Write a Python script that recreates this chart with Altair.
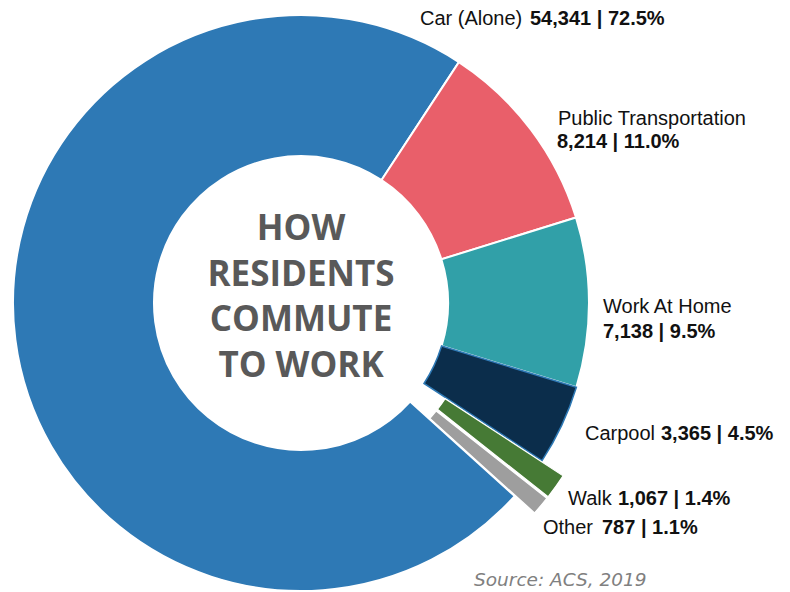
import math
import altair as alt
import pandas as pd

# ---------------- data ----------------
categories = ["Car (Alone)", "Public Transportation", "Work At Home", "Carpool", "Walk", "Other"]
counts = [54341, 8214, 7138, 3365, 1067, 787]
percents = [72.5, 11.0, 9.5, 4.5, 1.4, 1.1]
title_lines = ["HOW", "RESIDENTS", "COMMUTE", "TO WORK"]
source_text = "Source: ACS, 2019"

# ---------------- styles / layout ----------------
colors = ["#2E79B5", "#E95F6A", "#31A0A8", "#0B2D4B", "#467A35", "#9E9E9E"]
strokes = ["white", "white", "white", "#2E79B5", "white", "white"]
stroke_widths = [2, 2, 2, 1.5, 1.2, 1.2]
exploded = [0, 0, 0, 0, 1, 1]
W, H = 774, 584
CX, CY = 293, 295
R_OUT, R_IN = 288, 147
START = math.radians(132.1)
EXPLODE = 26
# label anchor positions (chart pixels): name x, name y, value x, value y
name_x = [412, 550, 595, 577, 560, 535]
name_y = [17, 117, 305, 432, 497, 526]
val_x = [522, 549, 595, 653, 610, 594]
val_y = [17, 140, 330, 432, 497, 526]

df = pd.DataFrame({
    "category": categories,
    "count": counts,
    "pct": percents,
    "color": colors,
    "strokec": strokes,
    "sw": stroke_widths,
    "explode": exploded,
    "order": list(range(len(categories))),
})

pie = (
    alt.Chart(df)
    .transform_joinaggregate(total="sum(count)")
    .transform_window(cum="sum(count)", sort=[alt.SortField("order")], frame=[None, 0])
    .transform_calculate(mid=f"{START} + 2*PI*(datum.cum - datum.count/2)/datum.total")
    .transform_calculate(
        px=f"{CX} + {EXPLODE}*datum.explode*sin(datum.mid)",
        py=f"{CY} - {EXPLODE}*datum.explode*cos(datum.mid)",
    )
    .mark_arc(radius=R_OUT, radius2=R_IN)
    .encode(
        theta=alt.Theta("count:Q", stack=True,
                        scale=alt.Scale(domain=[0, sum(counts)], range=[START, START + 2 * math.pi])),
        order=alt.Order("order:Q"),
        color=alt.Color("color:N", scale=None),
        stroke=alt.Stroke("strokec:N", scale=None),
        strokeWidth=alt.StrokeWidth("sw:Q", scale=None),
        x=alt.X("px:Q", scale=None),
        y=alt.Y("py:Q", scale=None),
    )
)

lab = pd.DataFrame({
    "name": [c + " " for c in categories],
    "val": [f"{c:,} | {p:.1f}%" for c, p in zip(counts, percents)],
    "nx": name_x, "ny": name_y, "vx": val_x, "vy": val_y,
})

names = alt.Chart(lab).mark_text(
    align="left", baseline="alphabetic", font="Liberation Sans", fontSize=20, color="#111111"
).encode(text="name:N", x=alt.X("nx:Q", scale=None), y=alt.Y("ny:Q", scale=None))

vals = alt.Chart(lab).mark_text(
    align="left", baseline="alphabetic", font="Liberation Sans", fontSize=20,
    fontWeight="bold", color="#111111"
).encode(text="val:N", x=alt.X("vx:Q", scale=None), y=alt.Y("vy:Q", scale=None))

tl = pd.DataFrame({"line": title_lines, "i": list(range(len(title_lines)))})
title = (
    alt.Chart(tl)
    .transform_calculate(ty=f"232 + datum.i*45.5")
    .mark_text(align="center", baseline="alphabetic", font="Open Sans", fontSize=35,
               fontWeight="bold", color="#595959")
    .encode(text="line:N", x=alt.value(CX), y=alt.Y("ty:Q", scale=None))
)

src = alt.Chart(pd.DataFrame({"t": [source_text]})).mark_text(
    align="left", baseline="alphabetic", font="DejaVu Sans", fontSize=18.5,
    fontStyle="italic", color="#808080"
).encode(text="t:N", x=alt.value(466), y=alt.value(578))

chart = (
    alt.layer(pie, title, names, vals, src)
    .properties(width=W, height=H, autosize="none", padding=0)
    .configure_view(stroke=None)
)

chart.save("out.html", embed_options={"renderer": "svg", "actions": False})
